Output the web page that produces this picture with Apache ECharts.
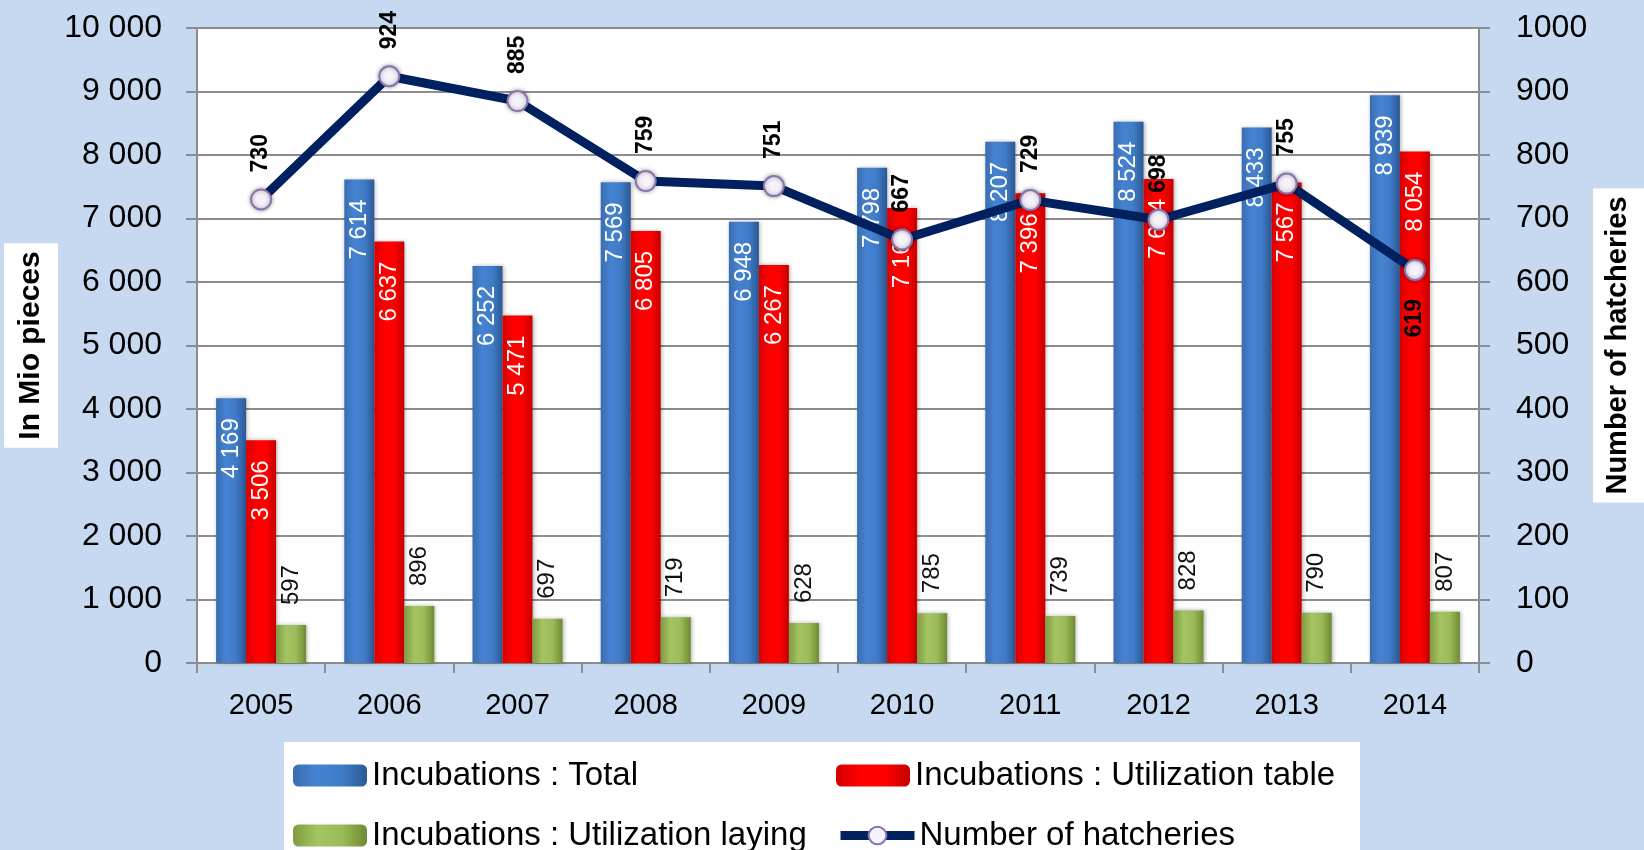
<!DOCTYPE html>
<html>
<head>
<meta charset="utf-8">
<script src="https://cdn.jsdelivr.net/npm/echarts@6/dist/echarts.min.js"></script>
<style>
  html, body { margin: 0; padding: 0; background: #c6d9f1; }
  #chart { width: 1644px; height: 850px; }
</style>
</head>
<body>
<div id="chart"></div>
<script>
// 数据
const years = ['2005', '2006', '2007', '2008', '2009', '2010', '2011', '2012', '2013', '2014'];
const incTotal = [4169, 7614, 6252, 7569, 6948, 7798, 8207, 8524, 8433, 8939];
const incTable = [3506, 6637, 5471, 6805, 6267, 7164, 7396, 7624, 7567, 8054];
const incLaying = [597, 896, 697, 719, 628, 785, 739, 828, 790, 807];
const hatcheries = [730, 924, 885, 759, 751, 667, 729, 698, 755, 619];
const leftTicks = { min: 0, max: 10000, interval: 1000 };
const rightTicks = { min: 0, max: 1000, interval: 100 };

const FONT = '"Liberation Sans", Arial, sans-serif';

// 千位空格分隔
const fmt = v => String(v).replace(/\B(?=(\d{3})+(?!\d))/g, ' ');

const hGrad = (stops) => new echarts.graphic.LinearGradient(0, 0, 1, 0,
  stops.map((c, i) => ({ offset: i / (stops.length - 1), color: c })));

const barLabelInside = {
  show: true,
  position: 'insideTop',
  distance: 20,
  rotate: 90,
  align: 'right',
  verticalAlign: 'middle',
  color: '#fff',
  fontSize: 24,
  fontFamily: FONT,
  formatter: p => fmt(p.value)
};

// 图例：每项单独定位，排成两列两行
const legendItem = (name, left, top, extra) => Object.assign({
  data: [name],
  orient: 'horizontal',
  left: left,
  top: top,
  padding: 0,
  itemWidth: 74,
  itemHeight: 22,
  textStyle: { fontSize: 33, color: '#000', fontFamily: FONT }
}, extra || {});

const chart = echarts.init(document.getElementById('chart'));

const option = {
  backgroundColor: '#c6d9f1',
  animation: false,
  textStyle: { fontFamily: FONT },
  grid: {
    left: 197,
    right: 165,
    top: 28,
    bottom: 187,
    outerBoundsMode: 'none',
    containLabel: false,
    show: true,
    backgroundColor: '#fff',
    borderWidth: 0
  },
  graphic: [
    { type: 'rect', z: 0, silent: true, shape: { x: 284, y: 742, width: 1076, height: 110 }, style: { fill: '#fff' } }
  ],
  legend: [
    legendItem('Incubations : Total', 293, 759),
    legendItem('Incubations : Utilization laying', 293, 819),
    legendItem('Incubations : Utilization table', 836, 759),
    legendItem('Number of hatcheries', 836, 819, { lineStyle: { width: 9 } })
  ],
  xAxis: {
    type: 'category',
    data: years,
    axisLine: { lineStyle: { color: '#8c8c8c', width: 2 } },
    axisTick: { show: true, length: 10, lineStyle: { color: '#8c8c8c', width: 2 } },
    axisLabel: { color: '#000', fontSize: 29, margin: 28, fontFamily: FONT }
  },
  yAxis: [
    {
      type: 'value',
      min: leftTicks.min,
      max: leftTicks.max,
      interval: leftTicks.interval,
      position: 'left',
      name: 'In Mio pieces',
      nameLocation: 'middle',
      nameRotate: 90,
      nameGap: 139,
      nameMoveOverlap: false,
      nameTextStyle: {
        color: '#000', fontSize: 30, fontWeight: 'bold', fontFamily: FONT,
        backgroundColor: '#fff', padding: [12, 8, 12, 8]
      },
      axisLine: { show: true, lineStyle: { color: '#8c8c8c', width: 2 } },
      axisTick: { show: true, length: 11, lineStyle: { color: '#8c8c8c', width: 2 } },
      axisLabel: { color: '#000', fontSize: 32, margin: 35, fontFamily: FONT, formatter: v => fmt(v) },
      splitLine: { lineStyle: { color: '#8c8c8c', width: 2 } }
    },
    {
      type: 'value',
      min: rightTicks.min,
      max: rightTicks.max,
      interval: rightTicks.interval,
      position: 'right',
      name: 'Number of hatcheries',
      nameLocation: 'middle',
      nameRotate: 90,
      nameGap: 114,
      nameMoveOverlap: false,
      nameTextStyle: {
        color: '#000', fontSize: 29, fontWeight: 'bold', fontFamily: FONT,
        backgroundColor: '#fff', padding: [10, 8, 30, 8]
      },
      axisLine: { show: true, lineStyle: { color: '#8c8c8c', width: 2 } },
      axisTick: { show: true, length: 11, lineStyle: { color: '#8c8c8c', width: 2 } },
      axisLabel: { color: '#000', fontSize: 32, margin: 37, fontFamily: FONT, formatter: v => String(v) },
      splitLine: { show: false }
    }
  ],
  series: [
    {
      name: 'Incubations : Total',
      type: 'bar',
      data: incTotal,
      barWidth: 30,
      barGap: '0%',
      itemStyle: {
        color: hGrad(['#3a6db0', '#4583d2', '#3f7bc6', '#2b5894']),
        shadowColor: 'rgba(0,0,0,0.3)', shadowBlur: 4, shadowOffsetX: 1
      },
      label: barLabelInside
    },
    {
      name: 'Incubations : Utilization table',
      type: 'bar',
      data: incTable,
      barWidth: 30,
      barGap: '0%',
      itemStyle: {
        color: hGrad(['#d40000', '#ff0000', '#ff0000', '#c40000']),
        shadowColor: 'rgba(0,0,0,0.3)', shadowBlur: 4, shadowOffsetX: 1
      },
      label: barLabelInside
    },
    {
      name: 'Incubations : Utilization laying',
      type: 'bar',
      data: incLaying,
      barWidth: 30,
      barGap: '0%',
      itemStyle: {
        color: hGrad(['#7f9c3e', '#a4c463', '#9bbb59', '#6f8a33']),
        shadowColor: 'rgba(0,0,0,0.3)', shadowBlur: 4, shadowOffsetX: 1
      },
      label: {
        show: true,
        position: 'top',
        distance: 20,
        rotate: 90,
        align: 'left',
        verticalAlign: 'middle',
        color: '#111',
        fontSize: 24,
        fontFamily: FONT,
        formatter: p => fmt(p.value)
      }
    },
    {
      name: 'Number of hatcheries',
      type: 'line',
      yAxisIndex: 1,
      data: hatcheries.map((v, i) => ({
        value: v,
        label: i === hatcheries.length - 1
          ? { position: 'bottom', align: 'right', distance: 18 }
          : undefined
      })),
      z: 5,
      symbol: 'circle',
      symbolSize: 20,
      lineStyle: { color: '#002060', width: 9 },
      itemStyle: {
        color: '#f6f2fa',
        borderColor: '#8a74b0',
        borderWidth: 2,
        shadowColor: 'rgba(0,0,0,0.35)',
        shadowBlur: 4
      },
      label: {
        show: true,
        position: 'top',
        distance: 16,
        rotate: 90,
        align: 'left',
        verticalAlign: 'middle',
        color: '#000',
        fontSize: 23,
        fontWeight: 'bold',
        fontFamily: FONT
      }
    }
  ]
};

chart.setOption(option);
window.addEventListener('resize', () => chart.resize());
</script>
</body>
</html>
